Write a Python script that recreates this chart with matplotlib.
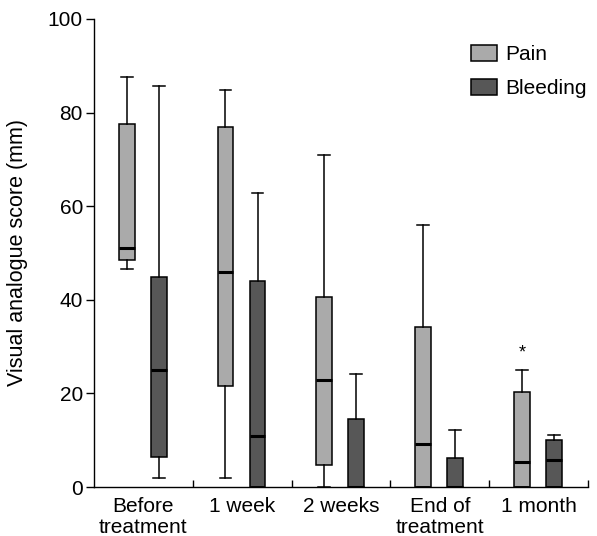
import matplotlib
matplotlib.use("Agg")
import matplotlib.pyplot as plt
from matplotlib.patches import Patch

plt.rcParams['font.family'] = ['Liberation Sans', 'DejaVu Sans']

categories = ["Before\ntreatment", "1 week", "2 weeks", "End of\ntreatment", "1 month"]
series = ["Pain", "Bleeding"]

pain_whislo = [46.5, 1.9, 0.0, 0.0, 0.0]
pain_q1 = [48.6, 21.6, 4.6, 0.0, 0.0]
pain_med = [51.1, 46.0, 22.8, 9.1, 5.3]
pain_q3 = [77.6, 76.9, 40.5, 34.2, 20.2]
pain_whishi = [87.5, 84.9, 70.9, 56.0, 24.9]

bleed_whislo = [1.9, 0.0, 0.0, 0.0, 0.0]
bleed_q1 = [6.5, 0.0, 0.0, 0.0, 0.0]
bleed_med = [24.9, 11.0, 0.0, 0.0, 5.8]
bleed_q3 = [44.8, 44.1, 14.5, 6.1, 10.0]
bleed_whishi = [85.7, 62.9, 24.1, 12.1, 11.2]

asterisk_y = 29.9  # 1 month pain

colors = ["#aaaaaa", "#575757"]

fig = plt.figure(figsize=(5.97, 5.36), dpi=100)
ax = fig.add_axes([0.1575, 0.0914, 0.8275, 0.8732])

def stats(lo, q1, med, q3, hi):
    return [dict(whislo=a, q1=b, med=c, q3=d, whishi=e, fliers=[])
            for a, b, c, d, e in zip(lo, q1, med, q3, hi)]

n = len(categories)
pain_pos = [i - 0.17 for i in range(n)]
bleed_pos = [i + 0.155 for i in range(n)]

for st, pos, col in [
    (stats(pain_whislo, pain_q1, pain_med, pain_q3, pain_whishi), pain_pos, colors[0]),
    (stats(bleed_whislo, bleed_q1, bleed_med, bleed_q3, bleed_whishi), bleed_pos, colors[1]),
]:
    ax.bxp(st, positions=pos, widths=0.16, patch_artist=True, showfliers=False,
           boxprops=dict(facecolor=col, edgecolor='black', linewidth=1.1),
           medianprops=dict(color='black', linewidth=2.2),
           whiskerprops=dict(color='black', linewidth=1.1),
           capprops=dict(color='black', linewidth=1.1),
           capwidths=0.12, manage_ticks=False)

ax.annotate("*", xy=(pain_pos[4], asterisk_y), xytext=(0, -4), textcoords='offset points',
            ha='center', va='center', fontsize=13)

ax.set_xlim(-0.5, n - 0.5)
ax.set_ylim(0, 100)
ax.set_yticks([0, 20, 40, 60, 80, 100])
ax.tick_params(axis='y', direction='out', length=6, width=1, labelsize=15, pad=2)

ax.set_xticks([i + 0.5 for i in range(n)])
ax.set_xticklabels([])
ax.tick_params(axis='x', which='major', direction='in', length=5, width=1)
ax.set_xticks(list(range(n)), minor=True)
ax.set_xticklabels(categories, minor=True, fontsize=15, linespacing=1.12)
ax.tick_params(axis='x', which='minor', length=0, pad=7)

for s in ['top', 'right']:
    ax.spines[s].set_visible(False)
ax.spines['left'].set_linewidth(1)
ax.spines['bottom'].set_linewidth(1)

ax.set_ylabel("Visual analogue score (mm)", fontsize=15.5, labelpad=14)

handles = [Patch(facecolor=c, edgecolor='black', linewidth=1.1) for c in colors]
ax.legend(handles, series, loc='upper left', bbox_to_anchor=(0.763, 0.945),
          frameon=False, fontsize=15, handlelength=1.25, handleheight=0.82,
          labelspacing=0.72, handletextpad=0.4, borderaxespad=0, borderpad=0)

fig.savefig("out.png", dpi=100)
